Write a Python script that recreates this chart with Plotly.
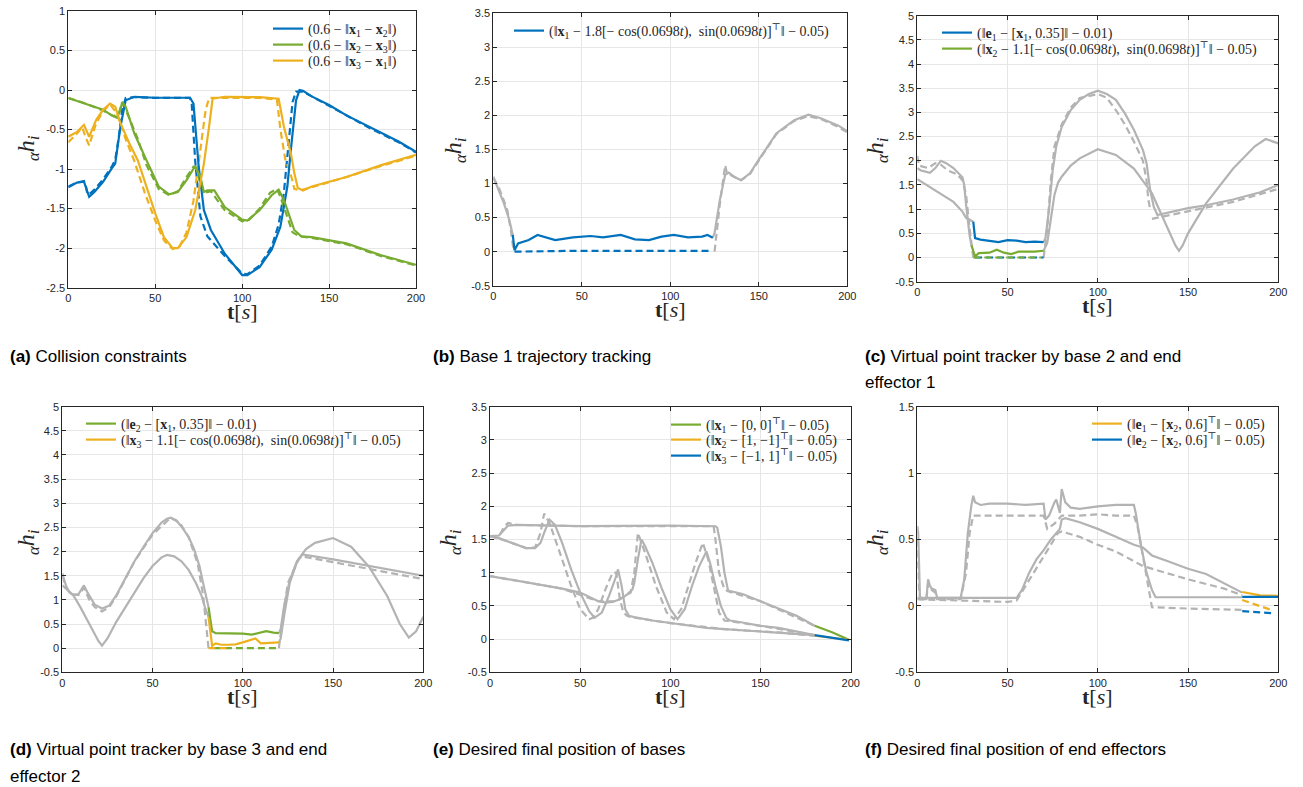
import plotly.graph_objects as go

W, H = 1303, 787
BLUE = '#0072BD'
GREEN = '#77AC30'
YELLOW = '#EDB120'
GREY = '#B3B3B3'

# ---------------- Panel (a): collision constraints ----------------
A_T_BLUE = [0, 5, 9, 12, 15, 20, 25, 27, 30, 33, 38, 50, 70, 72, 75, 78, 82, 90, 100, 103, 110, 117, 122, 126, 128, 131, 133, 135, 140, 150, 160, 175, 190, 200]
A_V_BLUE = [-1.23, -1.17, -1.16, -1.35, -1.29, -1.16, -0.99, -0.93, -0.46, -0.13, -0.085, -0.097, -0.097, -0.17, -0.97, -1.52, -1.77, -2.07, -2.34, -2.34, -2.24, -2.02, -1.73, -1.22, -0.76, -0.13, 0.0, -0.01, -0.08, -0.19, -0.32, -0.49, -0.65, -0.78]
A_T_BLUE_D = [0, 5, 9, 10, 11, 13, 15, 20, 25, 27, 29, 31, 33, 38, 50, 70, 71, 73, 76, 80, 90, 100, 103, 110, 117, 121, 124, 126, 129, 131, 135, 140, 150, 160, 175, 190, 200]
A_V_BLUE_D = [-1.22, -1.17, -1.15, -1.2, -1.32, -1.3, -1.26, -1.13, -0.97, -0.88, -0.6, -0.25, -0.1, -0.09, -0.1, -0.1, -0.18, -0.9, -1.6, -1.85, -2.1, -2.32, -2.33, -2.22, -1.98, -1.7, -1.3, -0.8, -0.15, -0.02, -0.02, -0.08, -0.2, -0.33, -0.5, -0.66, -0.79]
A_T_GREEN = [0, 10, 20, 25, 28, 30, 31, 33, 38, 45, 52, 58, 63, 68, 73, 76, 78, 80, 84, 90, 100, 103, 110, 117, 121, 124, 130, 134, 140, 160, 180, 200]
A_V_GREEN = [-0.10, -0.17, -0.25, -0.32, -0.35, -0.25, -0.15, -0.21, -0.55, -0.89, -1.22, -1.32, -1.29, -1.14, -0.96, -1.10, -1.29, -1.27, -1.27, -1.48, -1.64, -1.65, -1.52, -1.33, -1.26, -1.39, -1.77, -1.85, -1.86, -1.94, -2.09, -2.21]
A_T_GREEN_D = [0, 10, 20, 26, 29, 31, 35, 40, 45, 52, 58, 63, 68, 72, 74, 76, 78, 82, 90, 100, 104, 110, 116, 120, 122, 126, 129, 133, 140, 160, 180, 200]
A_V_GREEN_D = [-0.1, -0.17, -0.26, -0.33, -0.3, -0.16, -0.35, -0.62, -0.95, -1.25, -1.33, -1.28, -1.1, -0.97, -1.0, -1.2, -1.3, -1.28, -1.52, -1.66, -1.64, -1.5, -1.3, -1.25, -1.35, -1.6, -1.8, -1.85, -1.87, -1.95, -2.1, -2.22]
A_T_YELLOW = [0, 5, 9, 12, 16, 20, 24, 27, 30, 35, 40, 45, 50, 55, 60, 63, 68, 73, 78, 81, 83, 90, 110, 121, 124, 128, 130, 132, 135, 140, 160, 180, 200]
A_V_YELLOW = [-0.59, -0.53, -0.44, -0.59, -0.38, -0.25, -0.17, -0.21, -0.42, -0.67, -0.89, -1.22, -1.56, -1.86, -2.0, -2.0, -1.86, -1.52, -0.93, -0.46, -0.11, -0.085, -0.09, -0.11, -0.46, -0.8, -1.05, -1.24, -1.27, -1.22, -1.10, -0.95, -0.82]
A_T_YELLOW_D = [0, 5, 8, 10, 12, 16, 20, 24, 28, 33, 38, 44, 50, 55, 60, 64, 68, 72, 76, 79, 81, 90, 110, 120, 122, 125, 127, 129, 130, 133, 140, 160, 180, 200]
A_V_YELLOW_D = [-0.66, -0.55, -0.47, -0.6, -0.7, -0.42, -0.27, -0.18, -0.3, -0.62, -0.9, -1.3, -1.65, -1.9, -2.01, -1.98, -1.8, -1.4, -0.75, -0.25, -0.1, -0.1, -0.1, -0.12, -0.5, -0.9, -1.0, -1.15, -1.25, -1.27, -1.23, -1.1, -0.96, -0.83]

# ---------------- Panel (b): base 1 trajectory tracking ----------------
B_T_GREY_PRE = [0, 3, 6, 9, 11]
B_V_GREY_PRE = [1.10, 0.91, 0.71, 0.47, 0.245]
B_T_GREY_PRE_D = [0, 3, 6, 8, 10, 11.5]
B_V_GREY_PRE_D = [1.08, 0.95, 0.75, 0.6, 0.3, 0.0]
B_T_BLUE = [11, 12, 14, 20, 25, 28, 35, 45, 55, 62, 72, 80, 88, 95, 102, 110, 118, 121, 124]
B_V_BLUE = [0.245, 0.02, 0.12, 0.17, 0.245, 0.22, 0.17, 0.21, 0.23, 0.21, 0.245, 0.18, 0.17, 0.22, 0.245, 0.21, 0.22, 0.245, 0.205]
B_T_BLUE_D = [12, 20, 40, 60, 80, 100, 122]
B_V_BLUE_D = [0.0, 0.005, 0.01, 0.01, 0.005, 0.01, 0.01]
B_T_GREY_POST = [124, 125, 128, 131, 133, 136, 140, 145, 150, 160, 170, 178, 185, 195, 200]
B_V_GREY_POST = [0.205, 0.27, 0.76, 1.13, 1.16, 1.10, 1.05, 1.15, 1.35, 1.74, 1.93, 2.01, 1.96, 1.85, 1.77]
B_T_GREY_POST_D = [125, 128, 131, 132, 136, 140, 145, 150, 160, 170, 178, 185, 195, 200]
B_V_GREY_POST_D = [0.0, 0.7, 1.27, 1.15, 1.1, 1.05, 1.14, 1.34, 1.73, 1.92, 1.99, 1.95, 1.83, 1.75]

# ---------------- Panel (c): base 2 / end effector 1 ----------------
C_T_GREY_A = [0, 2, 4, 7, 10, 13, 16, 20, 25, 26, 27, 28, 29, 30]
C_V_GREY_A = [1.85, 1.8, 1.78, 1.75, 1.85, 2.0, 1.95, 1.85, 1.66, 1.5, 1.1, 0.7, 0.45, 0.25]
C_T_GREY_A_D = [0, 1, 3, 6, 10, 13, 17, 22, 25, 27, 29, 31]
C_V_GREY_A_D = [2.1, 1.9, 1.88, 1.85, 1.95, 1.92, 1.8, 1.72, 1.6, 1.3, 0.6, 0.0]
C_T_GREY_B = [0, 5, 10, 15, 20, 25, 27, 29, 31]
C_V_GREY_B = [1.62, 1.5, 1.38, 1.27, 1.15, 0.95, 0.82, 0.78, 0.74]
C_T_BLUE = [31, 32, 35, 40, 45, 50, 55, 60, 65, 70]
C_V_BLUE = [0.74, 0.4, 0.37, 0.35, 0.32, 0.36, 0.35, 0.32, 0.33, 0.32]
C_T_BLUE_D = [32, 50, 70]
C_V_BLUE_D = [0.0, 0.0, 0.0]
C_T_GREEN = [30, 32, 34, 40, 44, 48, 52, 56, 65, 70]
C_V_GREEN = [0.25, 0.02, 0.09, 0.1, 0.16, 0.1, 0.07, 0.12, 0.12, 0.14]
C_T_GREEN_D = [31, 50, 69]
C_V_GREEN_D = [0.0, 0.0, 0.0]
C_T_GREY_P1 = [70, 71, 73, 75, 77, 80, 85, 90, 95, 100, 105, 110, 115, 120, 125, 127, 129, 131, 133, 140, 150, 160, 175, 190, 200]
C_V_GREY_P1 = [0.32, 0.4, 1.0, 1.8, 2.3, 2.7, 3.05, 3.26, 3.38, 3.45, 3.38, 3.26, 2.98, 2.64, 2.22, 1.95, 1.4, 1.05, 0.88, 0.94, 1.02, 1.08, 1.2, 1.35, 1.5]
C_T_GREY_P1_D = [70, 72, 74, 76, 80, 85, 90, 100, 105, 110, 115, 120, 125, 127, 128, 129]
C_V_GREY_P1_D = [0.0, 0.6, 1.6, 2.3, 2.75, 3.1, 3.3, 3.38, 3.3, 3.05, 2.75, 2.4, 2.0, 1.6, 1.2, 1.0]
C_T_GREY_P1_D2 = [130, 150, 175, 200]
C_V_GREY_P1_D2 = [0.8, 0.95, 1.15, 1.42]
C_T_GREY_P2 = [70, 72, 74, 76, 78, 80, 85, 90, 100, 110, 120, 130, 135, 140, 143, 145, 147, 150, 160, 175, 187, 193, 200]
C_V_GREY_P2 = [0.14, 0.3, 0.8, 1.3, 1.55, 1.67, 1.9, 2.05, 2.24, 2.12, 1.84, 1.33, 0.91, 0.5, 0.25, 0.14, 0.25, 0.5, 1.12, 1.84, 2.3, 2.45, 2.36]

# ---------------- Panel (d): base 3 / end effector 2 ----------------
D_T_GREY_A = [0, 2, 4, 6, 9, 12, 14, 18, 22, 26, 30, 35, 40, 45, 50, 55, 58, 60, 63, 66, 70, 73, 76, 78, 80, 81]
D_V_GREY_A = [1.55, 1.3, 1.15, 1.1, 1.12, 1.3, 1.15, 0.9, 0.82, 0.88, 1.1, 1.45, 1.8, 2.1, 2.38, 2.6, 2.68, 2.7, 2.65, 2.52, 2.3, 2.05, 1.7, 1.35, 1.0, 0.85]
D_T_GREY_A_D = [0, 2, 5, 9, 12, 15, 18, 22, 26, 30, 40, 50, 60, 65, 70, 75, 78, 80, 81]
D_V_GREY_A_D = [1.5, 1.25, 1.12, 1.1, 1.25, 1.0, 0.85, 0.76, 0.85, 1.08, 1.8, 2.35, 2.7, 2.6, 2.3, 1.75, 1.1, 0.3, 0.0]
D_T_GREY_B = [0, 3, 6, 10, 15, 20, 22, 25, 30, 35, 40, 45, 50, 55, 58, 62, 66, 70, 74, 77, 79, 81]
D_V_GREY_B = [1.3, 1.2, 1.1, 0.85, 0.5, 0.15, 0.05, 0.2, 0.55, 0.85, 1.15, 1.45, 1.7, 1.88, 1.93, 1.9, 1.8, 1.62, 1.35, 1.1, 0.85, 0.65]
D_T_GREEN = [81, 82, 83, 85, 90, 95, 100, 105, 110, 113, 117, 120]
D_V_GREEN = [0.85, 0.6, 0.35, 0.31, 0.31, 0.3, 0.3, 0.28, 0.33, 0.35, 0.32, 0.31]
D_T_GREEN_D = [84, 100, 120]
D_V_GREEN_D = [0.0, 0.0, 0.0]
D_T_YELLOW = [81, 82, 83, 85, 88, 92, 96, 100, 104, 107, 110, 115, 120]
D_V_YELLOW = [0.65, 0.3, 0.05, 0.1, 0.07, 0.07, 0.08, 0.12, 0.16, 0.2, 0.1, 0.11, 0.12]
D_T_YELLOW_D = [81, 86, 92]
D_V_YELLOW_D = [0.0, 0.0, 0.0]
D_T_GREY_PA = [120, 121, 123, 126, 130, 135, 140, 150, 160, 170, 180, 187, 192, 196, 200]
D_V_GREY_PA = [0.31, 0.4, 0.9, 1.4, 1.8, 2.05, 2.18, 2.28, 2.1, 1.68, 1.08, 0.5, 0.22, 0.35, 0.65]
D_T_GREY_PB = [120, 121, 123, 126, 130, 133, 150, 170, 185, 200]
D_V_GREY_PB = [0.12, 0.2, 0.7, 1.35, 1.78, 1.94, 1.84, 1.7, 1.6, 1.5]
D_T_GREY_PB_D = [120, 122, 125, 128, 131, 133, 150, 170, 200]
D_V_GREY_PB_D = [0.0, 0.6, 1.35, 1.6, 1.85, 1.9, 1.78, 1.65, 1.43]

# ---------------- Panel (e): final positions of bases ----------------
E_T_GREY_A = [0, 5, 8, 10, 15, 50, 100, 125, 126, 128, 130, 132, 140, 150, 160, 170, 180]
E_V_GREY_A = [1.55, 1.56, 1.65, 1.71, 1.72, 1.7, 1.71, 1.7, 1.68, 1.4, 1.0, 0.73, 0.68, 0.57, 0.47, 0.35, 0.2]
E_T_GREY_A_D = [0, 5, 8, 10, 15, 50, 100, 124, 125, 127, 130, 132, 150, 180]
E_V_GREY_A_D = [1.55, 1.55, 1.7, 1.75, 1.72, 1.7, 1.7, 1.7, 1.5, 1.0, 0.75, 0.72, 0.57, 0.2]
E_T_GREY_B = [0, 5, 10, 15, 20, 25, 28, 30, 33, 36, 40, 45, 50, 55, 58, 62, 66, 70, 71, 73, 75, 77, 80, 90, 100, 110, 120, 130, 140, 150, 160, 170, 180]
E_V_GREY_B = [1.55, 1.52, 1.47, 1.42, 1.37, 1.37, 1.45, 1.6, 1.8, 1.72, 1.45, 1.05, 0.7, 0.42, 0.32, 0.4, 0.65, 0.95, 1.05, 0.8, 0.45, 0.35, 0.33, 0.28, 0.24, 0.2, 0.17, 0.15, 0.13, 0.12, 0.1, 0.08, 0.06]
E_T_GREY_B_D = [0, 10, 20, 25, 28, 30, 33, 36, 40, 45, 50, 55, 57, 60, 64, 68, 70, 72, 74, 76, 78, 100, 130, 160, 180]
E_V_GREY_B_D = [1.55, 1.47, 1.37, 1.38, 1.6, 1.89, 1.75, 1.5, 1.2, 0.8, 0.45, 0.3, 0.32, 0.45, 0.75, 1.0, 1.0, 0.6, 0.4, 0.35, 0.33, 0.24, 0.15, 0.1, 0.05]
E_T_GREY_C = [0, 20, 40, 50, 55, 60, 64, 68, 72, 76, 79, 80, 82, 84, 86, 90, 95, 100, 104, 108, 112, 116, 120, 122, 125, 128, 131, 133, 140, 150, 160, 170, 180]
E_V_GREY_C = [0.95, 0.86, 0.76, 0.7, 0.63, 0.57, 0.55, 0.56, 0.6, 0.67, 0.75, 0.85, 1.2, 1.5, 1.4, 1.15, 0.78, 0.45, 0.3, 0.45, 0.8, 1.1, 1.32, 1.15, 0.8, 0.5, 0.32, 0.28, 0.25, 0.2, 0.17, 0.12, 0.06]
E_T_GREY_C_D = [0, 40, 60, 70, 78, 80, 82, 86, 92, 98, 102, 106, 110, 114, 118, 121, 124, 127, 130, 133, 150, 180]
E_V_GREY_C_D = [0.95, 0.76, 0.57, 0.57, 0.7, 1.0, 1.6, 1.3, 0.8, 0.4, 0.3, 0.45, 0.8, 1.15, 1.45, 1.2, 0.8, 0.4, 0.28, 0.27, 0.2, 0.06]
E_T_GREEN = [180, 190, 199]
E_V_GREEN = [0.2, 0.1, -0.01]
E_T_YELLOW = [180, 190, 199]
E_V_YELLOW = [0.05, 0.02, -0.01]
E_T_BLUE = [180, 190, 199]
E_V_BLUE = [0.06, 0.02, -0.02]

# ---------------- Panel (f): final positions of end effectors ----------------
F_T_GREY_A = [0, 0.5, 1.5, 5, 6, 7, 8, 10, 11, 20, 24, 26, 28, 30, 31, 32, 35, 40, 50, 60, 70, 71, 73, 76, 77, 79, 80, 82, 85, 90, 100, 110, 120, 121, 124, 127, 130, 132, 150, 180]
F_V_GREY_A = [0.6, 0.55, 0.05, 0.05, 0.2, 0.15, 0.13, 0.12, 0.06, 0.06, 0.06, 0.2, 0.55, 0.76, 0.83, 0.78, 0.76, 0.77, 0.77, 0.76, 0.77, 0.65, 0.68, 0.78, 0.8, 0.7, 0.88, 0.78, 0.74, 0.73, 0.75, 0.76, 0.76, 0.7, 0.45, 0.25, 0.12, 0.065, 0.065, 0.065]
F_T_GREY_A_D = [0, 1, 2, 5, 6, 8, 10, 11, 20, 24, 27, 29, 31, 40, 60, 70, 72, 76, 80, 90, 100, 110, 120, 122, 126, 129, 130, 150, 180]
F_V_GREY_A_D = [0.5, 0.1, 0.05, 0.05, 0.17, 0.12, 0.1, 0.05, 0.05, 0.05, 0.25, 0.55, 0.68, 0.68, 0.68, 0.68, 0.58, 0.62, 0.68, 0.68, 0.69, 0.68, 0.68, 0.6, 0.3, 0.05, -0.01, -0.02, -0.03]
F_T_GREY_B = [0, 20, 40, 55, 58, 62, 66, 70, 74, 77, 79, 80, 82, 90, 100, 110, 120, 125, 130, 140, 150, 160, 170, 180]
F_V_GREY_B = [0.06, 0.06, 0.06, 0.06, 0.12, 0.25, 0.35, 0.42, 0.5, 0.55, 0.58, 0.65, 0.66, 0.63, 0.58, 0.52, 0.46, 0.44, 0.38, 0.33, 0.28, 0.24, 0.17, 0.1]
F_T_GREY_B_D = [0, 20, 50, 55, 60, 70, 78, 80, 90, 100, 110, 125, 150, 170, 180]
F_V_GREY_B_D = [0.05, 0.04, 0.03, 0.04, 0.15, 0.38, 0.55, 0.56, 0.52, 0.46, 0.41, 0.3, 0.2, 0.13, 0.08]
F_T_YELLOW = [180, 190, 200]
F_V_YELLOW = [0.105, 0.08, 0.075]
F_T_YELLOW_D = [180, 196]
F_V_YELLOW_D = [0.044, -0.03]
F_T_BLUE = [180, 200]
F_V_BLUE = [0.068, 0.068]
F_T_BLUE_D = [180, 196]
F_V_BLUE_D = [-0.04, -0.054]

# ---------------- Text ----------------
X_TICKS = [0, 50, 100, 150, 200]
Y_TICKS = {
    1: [-2.5, -2, -1.5, -1, -0.5, 0, 0.5, 1],
    2: [-0.5, 0, 0.5, 1, 1.5, 2, 2.5, 3, 3.5],
    3: [-0.5, 0, 0.5, 1, 1.5, 2, 2.5, 3, 3.5, 4, 4.5, 5],
    4: [-0.5, 0, 0.5, 1, 1.5, 2, 2.5, 3, 3.5, 4, 4.5, 5],
    5: [-0.5, 0, 0.5, 1, 1.5, 2, 2.5, 3, 3.5],
    6: [-0.5, 0, 0.5, 1, 1.5],
}

X1, X2, X3 = '<b>x</b><sub>1</sub>', '<b>x</b><sub>2</sub>', '<b>x</b><sub>3</sub>'
E1, E2 = '<b>e</b><sub>1</sub>', '<b>e</b><sub>2</sub>'
TRAJ = '[− cos(0.0698<i>t</i>),  sin(0.0698<i>t</i>)]<sup>⊤</sup>‖ − 0.05)'
LEG_A = ['(0.6 − ‖' + X1 + ' − ' + X2 + '‖)', '(0.6 − ‖' + X2 + ' − ' + X3 + '‖)', '(0.6 − ‖' + X3 + ' − ' + X1 + '‖)']
LEG_B = ['(‖' + X1 + ' − 1.8' + TRAJ]
LEG_C = ['(‖' + E1 + ' − [' + X1 + ', 0.35]‖ − 0.01)', '(‖' + X2 + ' − 1.1' + TRAJ]
LEG_D = ['(‖' + E2 + ' − [' + X1 + ', 0.35]‖ − 0.01)', '(‖' + X3 + ' − 1.1' + TRAJ]
LEG_E = ['(‖' + X1 + ' − [0, 0]<sup>⊤</sup>‖ − 0.05)', '(‖' + X2 + ' − [1, −1]<sup>⊤</sup>‖ − 0.05)', '(‖' + X3 + ' − [−1, 1]<sup>⊤</sup>‖ − 0.05)']
LEG_F = ['(‖' + E1 + ' − [' + X2 + ', 0.6]<sup>⊤</sup>‖ − 0.05)', '(‖' + E2 + ' − [' + X2 + ', 0.6]<sup>⊤</sup>‖ − 0.05)']

CAPTIONS = [
    ('(a)', 'Collision constraints', ''),
    ('(b)', 'Base 1 trajectory tracking', ''),
    ('(c)', 'Virtual point tracker by base 2 and end', 'effector 1'),
    ('(d)', 'Virtual point tracker by base 3 and end', 'effector 2'),
    ('(e)', 'Desired final position of bases', ''),
    ('(f)', 'Desired final position of end effectors', ''),
]

# ---------------- Layout geometry (pixels) ----------------
PANELS = {
    1: (68.3, 416.0, 11.0, 287.7),
    2: (493.3, 847.3, 13.3, 285.7),
    3: (917.3, 1278.3, 15.7, 281.7),
    4: (62.3, 423.3, 406.7, 672.3),
    5: (490.0, 850.7, 406.7, 672.3),
    6: (917.3, 1278.3, 406.7, 672.3),
}
CAP_POS = {1: (8, 356), 2: (431, 356), 3: (863, 356), 4: (8, 749), 5: (431, 749), 6: (863, 749)}
YT_POS = {1: (28, 148), 2: (455, 150), 3: (877, 150), 4: (28, 542), 5: (450, 542), 6: (877, 542)}
# legend key left edge (px) and row centres (px) for each panel
LEG_X = {1: 273, 2: 514, 3: 942, 4: 86, 5: 671, 6: 1092}
LEG_ROWS = {1: [29, 45, 61], 2: [31], 3: [33, 49], 4: [424, 440], 5: [425, 440, 456], 6: [424, 440]}

fig = go.Figure()
DASH = '7px,4px'
SERIF = 'Liberation Serif, DejaVu Serif, serif'
legend_layouts = {}
leg_counter = [0]


def axn(k):
    return ('x', 'y') if k == 1 else ('x%d' % k, 'y%d' % k)


def add(k, t, v, color, dashed=False, name=None, row=0):
    xa, ya = axn(k)
    kw = {}
    if name is not None:
        leg_counter[0] += 1
        lid = 'legend' if leg_counter[0] == 1 else 'legend%d' % leg_counter[0]
        kw['legend'] = lid
        legend_layouts[lid] = dict(
            x=(LEG_X[k] - 5) / W, y=1 - LEG_ROWS[k][row] / H, xanchor='left', yanchor='middle',
            bgcolor='rgba(0,0,0,0)', borderwidth=0, tracegroupgap=0, itemwidth=30,
            font=dict(family=SERIF, size=14, color='#262626'))
    fig.add_trace(go.Scatter(
        x=t, y=v, mode='lines', xaxis=xa, yaxis=ya,
        line=dict(color=color, width=2.2, dash=DASH if dashed else 'solid'),
        name=name if name else '', showlegend=name is not None,
        hoverinfo='skip', **kw))


# (a)
add(1, A_T_BLUE_D, A_V_BLUE_D, BLUE, True)
add(1, A_T_GREEN_D, A_V_GREEN_D, GREEN, True)
add(1, A_T_YELLOW_D, A_V_YELLOW_D, YELLOW, True)
add(1, A_T_BLUE, A_V_BLUE, BLUE, name=LEG_A[0], row=0)
add(1, A_T_GREEN, A_V_GREEN, GREEN, name=LEG_A[1], row=1)
add(1, A_T_YELLOW, A_V_YELLOW, YELLOW, name=LEG_A[2], row=2)
# (b)
add(2, B_T_GREY_PRE_D, B_V_GREY_PRE_D, GREY, True)
add(2, B_T_GREY_POST_D, B_V_GREY_POST_D, GREY, True)
add(2, B_T_GREY_PRE, B_V_GREY_PRE, GREY)
add(2, B_T_GREY_POST, B_V_GREY_POST, GREY)
add(2, B_T_BLUE_D, B_V_BLUE_D, BLUE, True)
add(2, B_T_BLUE, B_V_BLUE, BLUE, name=LEG_B[0], row=0)
# (c)
add(3, C_T_GREY_A_D, C_V_GREY_A_D, GREY, True)
add(3, C_T_GREY_P1_D, C_V_GREY_P1_D, GREY, True)
add(3, C_T_GREY_P1_D2, C_V_GREY_P1_D2, GREY, True)
add(3, C_T_GREY_A, C_V_GREY_A, GREY)
add(3, C_T_GREY_B, C_V_GREY_B, GREY)
add(3, C_T_GREY_P1, C_V_GREY_P1, GREY)
add(3, C_T_GREY_P2, C_V_GREY_P2, GREY)
add(3, C_T_BLUE_D, C_V_BLUE_D, BLUE, True)
add(3, C_T_GREEN_D, C_V_GREEN_D, GREEN, True)
add(3, C_T_BLUE, C_V_BLUE, BLUE, name=LEG_C[0], row=0)
add(3, C_T_GREEN, C_V_GREEN, GREEN, name=LEG_C[1], row=1)
# (d)
add(4, D_T_GREY_A_D, D_V_GREY_A_D, GREY, True)
add(4, D_T_GREY_PB_D, D_V_GREY_PB_D, GREY, True)
add(4, D_T_GREY_A, D_V_GREY_A, GREY)
add(4, D_T_GREY_B, D_V_GREY_B, GREY)
add(4, D_T_GREY_PA, D_V_GREY_PA, GREY)
add(4, D_T_GREY_PB, D_V_GREY_PB, GREY)
add(4, D_T_GREEN_D, D_V_GREEN_D, GREEN, True)
add(4, D_T_YELLOW_D, D_V_YELLOW_D, YELLOW, True)
add(4, D_T_GREEN, D_V_GREEN, GREEN, name=LEG_D[0], row=0)
add(4, D_T_YELLOW, D_V_YELLOW, YELLOW, name=LEG_D[1], row=1)
# (e)
add(5, E_T_GREY_A_D, E_V_GREY_A_D, GREY, True)
add(5, E_T_GREY_B_D, E_V_GREY_B_D, GREY, True)
add(5, E_T_GREY_C_D, E_V_GREY_C_D, GREY, True)
add(5, E_T_GREY_A, E_V_GREY_A, GREY)
add(5, E_T_GREY_B, E_V_GREY_B, GREY)
add(5, E_T_GREY_C, E_V_GREY_C, GREY)
add(5, E_T_GREEN, E_V_GREEN, GREEN, name=LEG_E[0], row=0)
add(5, E_T_YELLOW, E_V_YELLOW, YELLOW, name=LEG_E[1], row=1)
add(5, E_T_BLUE, E_V_BLUE, BLUE, name=LEG_E[2], row=2)
# (f)
add(6, F_T_GREY_A_D, F_V_GREY_A_D, GREY, True)
add(6, F_T_GREY_B_D, F_V_GREY_B_D, GREY, True)
add(6, F_T_GREY_A, F_V_GREY_A, GREY)
add(6, F_T_GREY_B, F_V_GREY_B, GREY)
add(6, F_T_YELLOW_D, F_V_YELLOW_D, YELLOW, True)
add(6, F_T_BLUE_D, F_V_BLUE_D, BLUE, True)
add(6, F_T_YELLOW, F_V_YELLOW, YELLOW, name=LEG_F[0], row=0)
add(6, F_T_BLUE, F_V_BLUE, BLUE, name=LEG_F[1], row=1)

TICKFONT = dict(family='Liberation Sans, Arial, sans-serif', size=11, color='#262626')
SANS = 'Liberation Sans, Arial, sans-serif'

layout = dict(
    width=W, height=H, margin=dict(l=0, r=0, t=0, b=0, autoexpand=False),
    paper_bgcolor='white', plot_bgcolor='white', showlegend=True,
)
layout.update(legend_layouts)
annotations = []
for k, (x0, x1, yt, yb) in PANELS.items():
    xa, ya = axn(k)
    xkey = 'xaxis' if k == 1 else 'xaxis%d' % k
    ykey = 'yaxis' if k == 1 else 'yaxis%d' % k
    yt_vals = Y_TICKS[k]
    common = dict(showgrid=True, gridcolor='#E6E6E6', gridwidth=1, zeroline=False,
                  showline=True, linecolor='#262626', linewidth=1, mirror='allticks',
                  ticks='inside', ticklen=4, tickcolor='#262626', tickwidth=1,
                  tickfont=TICKFONT, fixedrange=True, automargin=False)
    layout[xkey] = dict(domain=[x0 / W, x1 / W], anchor=ya, range=[0, 200],
                        tickvals=X_TICKS, ticktext=['%g' % v for v in X_TICKS], **common)
    layout[ykey] = dict(domain=[1 - yb / H, 1 - yt / H], anchor=xa,
                        range=[yt_vals[0], yt_vals[-1]],
                        tickvals=yt_vals, ticktext=['%g' % v for v in yt_vals], **common)
    # x title
    annotations.append(dict(xref='paper', yref='paper', x=(x0 + x1) / 2 / W,
                            y=1 - (yb + 24) / H, xanchor='center', yanchor='middle',
                            text='<b>t</b>[<i>s</i>]', showarrow=False,
                            font=dict(family=SERIF, size=22, color='#262626')))
    # y title
    tx, ty = YT_POS[k]
    annotations.append(dict(xref='paper', yref='paper', x=tx / W, y=1 - ty / H,
                            xanchor='center', yanchor='middle', textangle=-90,
                            text='<i><sub>α</sub>h<sub>i</sub></i>', showarrow=False,
                            font=dict(family=SERIF, size=24, color='#262626')))
    # captions
    cx, cy = CAP_POS[k]
    lab, l1, l2 = CAPTIONS[k - 1]
    annotations.append(dict(xref='paper', yref='paper', x=cx / W, y=1 - cy / H,
                            xanchor='left', yanchor='middle', showarrow=False,
                            text='<b>' + lab + '</b> ' + l1,
                            font=dict(family=SANS, size=17, color='black')))
    if l2:
        annotations.append(dict(xref='paper', yref='paper', x=cx / W, y=1 - (cy + 27) / H,
                                xanchor='left', yanchor='middle', showarrow=False,
                                text=l2, font=dict(family=SANS, size=17, color='black')))

layout['annotations'] = annotations
fig.update_layout(**layout)
fig.write_html('out.html',
               config={'displayModeBar': False, 'displaylogo': False},
               post_script="document.body.style.margin='0';document.body.style.padding='0';"
                           "document.body.style.overflow='hidden';")
